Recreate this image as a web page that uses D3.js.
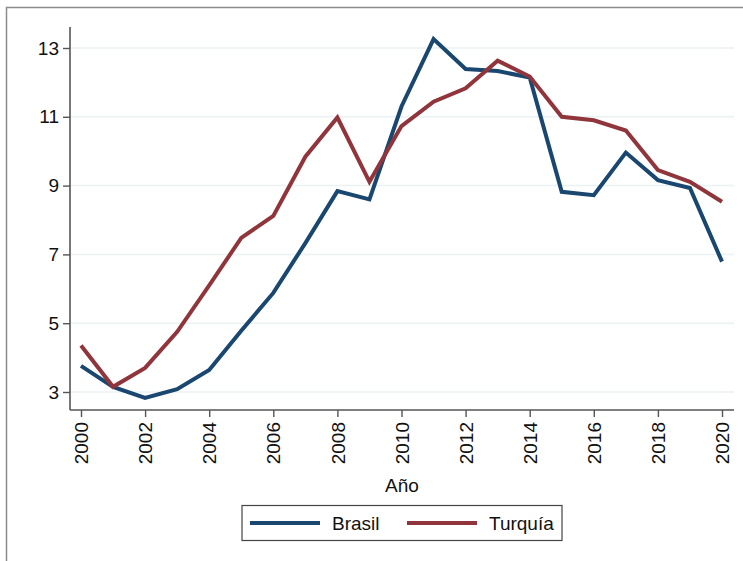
<!DOCTYPE html>
<html>
<head>
<meta charset="utf-8">
<script src="https://cdn.jsdelivr.net/npm/d3@7"></script>
<style>
  body { margin: 0; background: #fff; }
  svg { display: block; font-family: "Liberation Sans", Arial, sans-serif; }
</style>
</head>
<body>
<svg id="chart" width="743" height="561"></svg>
<script>
// data
var years = d3.range(2000, 2021);
var brasil = [3.76, 3.15, 2.83, 3.08, 3.64, 4.78, 5.88, 7.33, 8.84, 8.6, 11.3,
              13.26, 12.39, 12.33, 12.14, 8.82, 8.72, 9.96, 9.16, 8.93, 6.79];
var turquia = [4.35, 3.15, 3.70, 4.75, 6.1, 7.48, 8.12, 9.84, 10.98, 9.11, 10.73,
               11.44, 11.83, 12.63, 12.17, 11.0, 10.9, 10.6, 9.45, 9.11, 8.53];
var yTicks = [3, 5, 7, 9, 11, 13];
var xTicks = d3.range(2000, 2021, 2);
var seriesNames = ["Brasil", "Turquía"];
var seriesColors = ["#1a476f", "#90353b"];

var svg = d3.select("#chart");

// outer frame
svg.append("rect")
    .attr("x", 6.5).attr("y", 7.5)
    .attr("width", 760).attr("height", 570)
    .attr("fill", "none")
    .attr("stroke", "#8c8c8c")
    .attr("stroke-width", 1.5);

var x = d3.scaleLinear().domain([2000, 2020]).range([81, 722]);
var y = d3.scaleLinear().domain([3, 13]).range([392, 48]);

var plotLeft = 70, plotRight = 734, plotTop = 27, plotBottom = 410;

// gridlines
svg.append("g")
    .selectAll("line")
    .data(yTicks)
    .enter().append("line")
    .attr("x1", plotLeft).attr("x2", plotRight)
    .attr("y1", function (d) { return y(d); })
    .attr("y2", function (d) { return y(d); })
    .attr("stroke", "#eaf2f3")
    .attr("stroke-width", 1.5);

// y axis
var yAxis = svg.append("g")
    .attr("transform", "translate(" + plotLeft + ",0)")
    .call(d3.axisLeft(y).tickValues(yTicks).tickSize(7).tickPadding(4));
yAxis.select(".domain").remove();
yAxis.append("line")
    .attr("x1", 0).attr("x2", 0)
    .attr("y1", plotTop).attr("y2", plotBottom)
    .attr("stroke", "#555").attr("stroke-width", 1.6);

// x axis
var xAxis = svg.append("g")
    .attr("transform", "translate(0," + plotBottom + ")")
    .call(d3.axisBottom(x).tickValues(xTicks).tickFormat(d3.format("d")).tickSize(7));
xAxis.select(".domain").remove();
xAxis.append("line")
    .attr("x1", plotLeft).attr("x2", plotRight)
    .attr("y1", 0).attr("y2", 0)
    .attr("stroke", "#555").attr("stroke-width", 1.6);
xAxis.selectAll(".tick text")
    .attr("transform", "rotate(-90)")
    .attr("x", -12).attr("y", 0).attr("dy", "0.35em")
    .style("text-anchor", "end");

svg.selectAll(".tick line").attr("stroke", "#555").attr("stroke-width", 1.4);
svg.selectAll(".tick text")
    .attr("fill", "#111")
    .style("font-size", "19px")
    .style("font-family", "Liberation Sans, Arial, sans-serif");

// axis title
svg.append("text")
    .attr("x", 402).attr("y", 492)
    .attr("text-anchor", "middle")
    .attr("fill", "#111")
    .style("font-size", "19px")
    .text("Año");

// lines
var line = d3.line()
    .x(function (d, i) { return x(years[i]); })
    .y(function (d) { return y(d); });

[brasil, turquia].forEach(function (vals, k) {
    svg.append("path")
        .datum(vals)
        .attr("d", line)
        .attr("fill", "none")
        .attr("stroke", seriesColors[k])
        .attr("stroke-width", 4)
        .attr("stroke-linejoin", "miter");
});

// legend
var legend = svg.append("g");
legend.append("rect")
    .attr("x", 242).attr("y", 505.5)
    .attr("width", 320).attr("height", 35)
    .attr("fill", "#fff")
    .attr("stroke", "#444")
    .attr("stroke-width", 1.2);

var legendX = [250, 407];
seriesNames.forEach(function (name, k) {
    legend.append("line")
        .attr("x1", legendX[k]).attr("x2", legendX[k] + 70)
        .attr("y1", 523).attr("y2", 523)
        .attr("stroke", seriesColors[k])
        .attr("stroke-width", 4);
    legend.append("text")
        .attr("x", legendX[k] + 82).attr("y", 530)
        .attr("fill", "#111")
        .style("font-size", "19px")
        .text(name);
});
</script>
</body>
</html>
